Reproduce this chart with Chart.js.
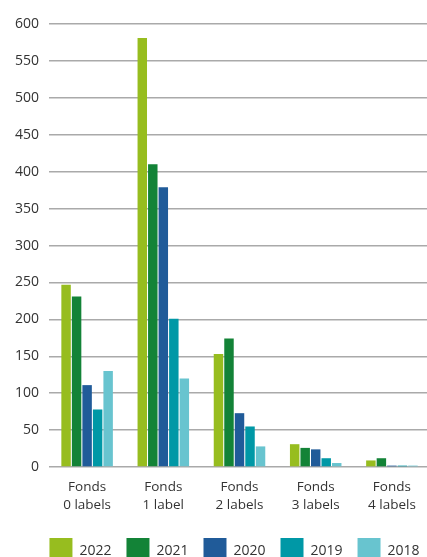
<!DOCTYPE html>
<html>
<head>
<meta charset="utf-8">
<script src="https://cdn.jsdelivr.net/npm/chart.js@4/dist/chart.umd.min.js"></script>
<style>
  html, body { margin: 0; padding: 0; background: #fff; overflow: hidden; }
  #wrap { width: 469px; height: 574px; position: relative; }
</style>
</head>
<body>
<div id="wrap"><canvas id="bar-chart"></canvas></div>
<script>
Chart.defaults.font.family = "'Open Sans', 'Noto Sans', sans-serif";
Chart.defaults.color = '#333';

// categorias y valores
const categories = [['Fonds', '0 labels'], ['Fonds', '1 label'], ['Fonds', '2 labels'], ['Fonds', '3 labels'], ['Fonds', '4 labels']];
const years = ['2022', '2021', '2020', '2019', '2018'];
const values2022 = [247, 581, 153, 31, 9];
const values2021 = [231, 410, 174, 26, 12];
const values2020 = [111, 379, 73, 24, 2];
const values2019 = [78, 201, 55, 12, 2];
const values2018 = [130, 120, 28, 5.5, 2];
const colors = ['#97bd1f', '#138337', '#205b99', '#0098a6', '#68c4cf'];
const yTicks = [0, 50, 100, 150, 200, 250, 300, 350, 400, 450, 500, 550, 600];

const series = [values2022, values2021, values2020, values2019, values2018];

// la leyenda del original esta algo corrida a la derecha
const shiftLegend = {
    id: 'shiftLegend',
    afterLayout(chart) {
        chart.legend.left += 17;
        chart.legend.right += 17;
    }
};

new Chart(document.getElementById('bar-chart'), {
    type: 'bar',
    data: {
        labels: categories,
        datasets: years.map((y, i) => ({
            label: y,
            data: series[i],
            backgroundColor: colors[i],
            borderWidth: 0,
            barPercentage: 0.9,
            categoryPercentage: 0.69
        }))
    },
    options: {
        responsive: true,
        maintainAspectRatio: false,
        animation: false,
        layout: { padding: { top: 24, right: 39, left: 5, bottom: 0 } },
        plugins: {
            legend: {
                position: 'bottom',
                labels: {
                    boxWidth: 23,
                    boxHeight: 26,
                    padding: 15,
                    color: '#333',
                    font: { size: 14 }
                }
            },
            tooltip: { enabled: false }
        },
        scales: {
            x: {
                afterFit: axis => { axis.height += 6; },
                grid: { display: false },
                border: { display: false },
                ticks: { font: { size: 13.5, lineHeight: 1.33 }, color: '#333', padding: 3, maxRotation: 0 }
            },
            y: {
                min: 0,
                max: 600,
                afterBuildTicks: axis => { axis.ticks = yTicks.map(v => ({ value: v })); },
                grid: { color: '#aaaaaa', lineWidth: 1.5, drawTicks: false },
                border: { display: false },
                ticks: { font: { size: 14 }, color: '#333', padding: 10 }
            }
        }
    },
    plugins: [shiftLegend]
});
</script>
</body>
</html>
